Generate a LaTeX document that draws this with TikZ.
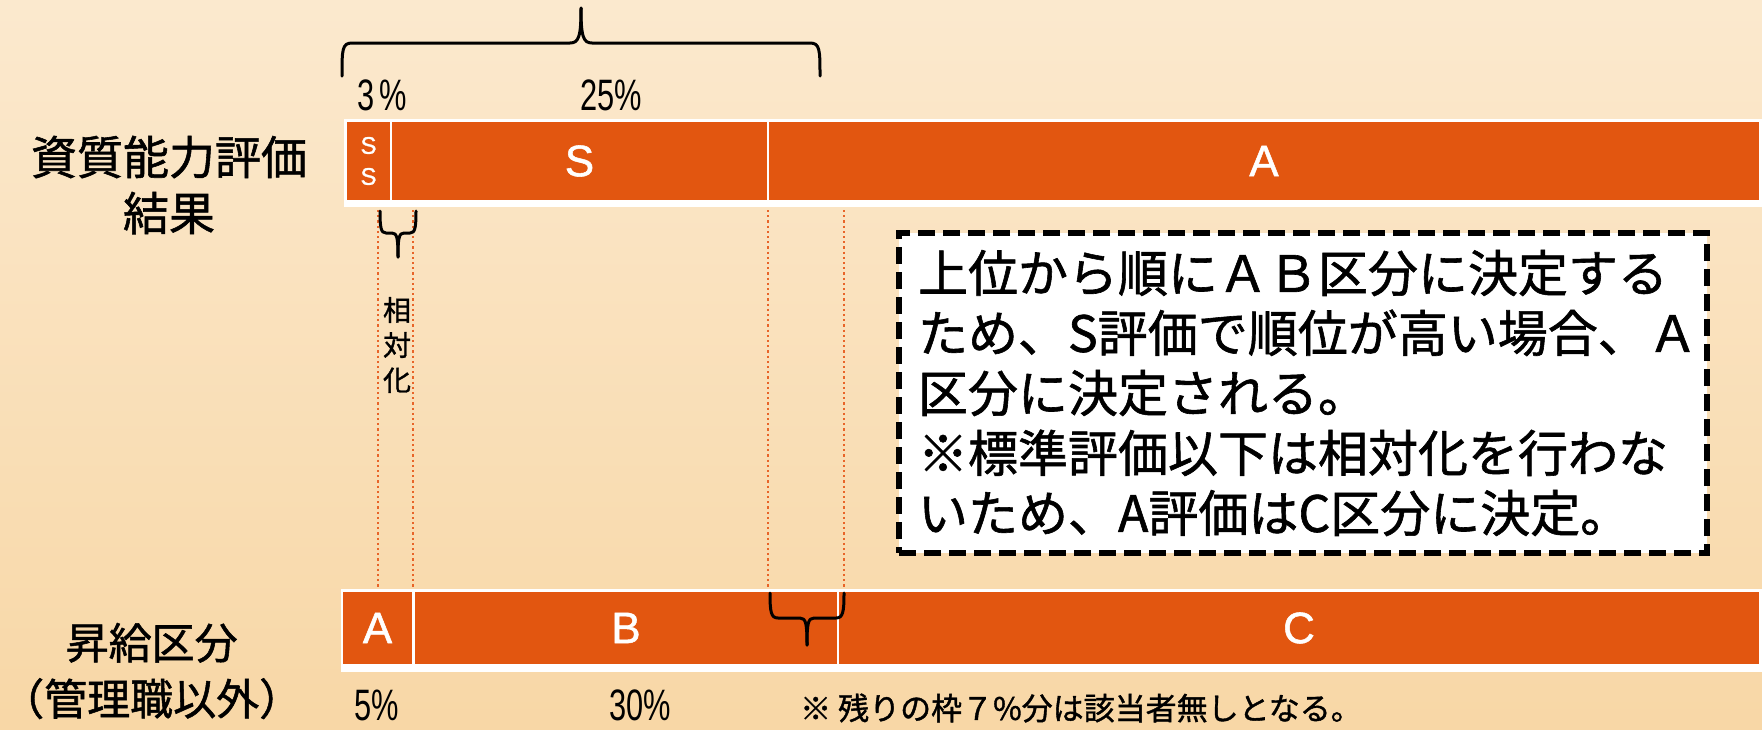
\documentclass[tikz,border=0pt]{standalone}
\usepackage{fontspec}
\newfontfamily\jp{Noto Sans CJK JP}[FakeBold=1.2]
\newfontfamily\ar{Liberation Sans}
\newfontfamily\arb{Liberation Sans}[FakeBold=1.2]
\definecolor{bar}{RGB}{226,86,16}
\definecolor{bgtop}{RGB}{251,233,206}
\definecolor{bgbot}{RGB}{248,215,166}
\definecolor{dotc}{RGB}{232,100,40}
\begin{document}
\begin{tikzpicture}[x=1pt,y=-1pt,
  seg/.style={fill=bar, inner sep=0, text=white, font=\arb\fontsize{44}{44}\selectfont},
  lab/.style={font=\jp\fontsize{46}{56}\selectfont, align=center, inner sep=0},
  pct/.style={font=\ar\fontsize{44}{44}\selectfont, inner sep=0},
  bracepath/.style={line width=3pt, line join=round, line cap=round},
  guide/.style={draw=dotc, line width=2.2pt, dash pattern=on 2.2pt off 3pt},
  notebox/.style={draw=black, fill=white, line width=6pt, dash pattern=on 17pt off 8pt,
    font=\jp\fontsize{50}{60}\selectfont, align=left, inner xsep=19pt, inner ysep=0pt}
]
\useasboundingbox (0,0) rectangle (1762,729);
\shade[top color=bgtop, bottom color=bgbot] (0,0) rectangle (1762,729);

% top bar
\fill[white] (344,119) rectangle (1762,207);
\node[seg, minimum width=43, minimum height=78, font=\arb\fontsize{24}{31}\selectfont, align=center] (ss) at (368.5,161) {S\\S};
\node[seg, minimum width=375, minimum height=78] (s) at (579.5,161) {S};
\node[seg, minimum width=990, minimum height=78] (a) at (1264,161) {A};

% bottom bar
\fill[white] (341,589) rectangle (1762,672);
\node[seg, minimum width=69, minimum height=72] (ba) at (377.5,628) {A};
\node[seg, minimum width=422, minimum height=72] (bb) at (626,628) {B};
\node[seg, minimum width=920, minimum height=72] (bc) at (1299,628) {C};

% left labels
\node[lab] (l1) at (169,185) {資質能力評価\\結果};
\node[lab, font=\jp\fontsize{43}{56}\selectfont, anchor=west] (l2) at (1,671) {昇給区分\\（管理職以外）};

% percentages
\node[pct] (p3) at (382,95) {\scalebox{0.7}[1]{3\,\%}};
\node[pct] (p25) at (611,95) {\scalebox{0.7}[1]{25\%}};
\node[pct] (p5) at (377,705) {\scalebox{0.7}[1]{5\%}};
\node[pct] (p30) at (640,705) {\scalebox{0.7}[1]{30\%}};

% guide lines
\coordinate (g1t) at (378,210); \coordinate (g1b) at (378,589);
\coordinate (g2t) at (413,210); \coordinate (g2b) at (413,589);
\coordinate (g3t) at (768,210); \coordinate (g3b) at (768,589);
\coordinate (g4t) at (844,210); \coordinate (g4b) at (844,589);
\draw[guide] (g1t) -- (g1b);
\draw[guide] (g2t) -- (g2b);
\draw[guide] (g3t) -- (g3b);
\draw[guide] (g4t) -- (g4b);

% top brace (tip up)
\draw[bracepath] (342,76) .. controls (342,50) and (342,43) .. (352,43) -- (570,43) .. controls (579,43) and (581,36) .. (581,8);
\draw[bracepath] (820,76) .. controls (820,50) and (820,43) .. (810,43) -- (592,43) .. controls (583,43) and (581,36) .. (581,8);

% small brace (tip down)
\draw[bracepath] (380,211) .. controls (380,228) and (381,233) .. (386,233) -- (392,233) .. controls (397,233) and (398,238) .. (398,257);
\draw[bracepath] (416,211) .. controls (416,228) and (415,233) .. (410,233) -- (404,233) .. controls (399,233) and (398,238) .. (398,257);

% lower brace (tip down)
\draw[bracepath] (770,593) .. controls (770,612) and (771,618) .. (778,618) -- (800,618) .. controls (806,618) and (807,624) .. (807,645);
\draw[bracepath] (844,593) .. controls (844,612) and (843,618) .. (836,618) -- (814,618) .. controls (808,618) and (807,624) .. (807,645);

% vertical label
\node[font=\jp\fontsize{28}{35}\selectfont, align=center, inner sep=0] (rel) at (397,345) {相\\対\\化};

% note box
\node[notebox, minimum width=808, minimum height=320, text width=770] (note) at (1303,393)
{上位から順にＡＢ区分に決定する\\ため、S評価で順位が高い場合、Ａ\\区分に決定される。\\※標準評価以下は相対化を行わな\\いため、A評価はC区分に決定。};

% remark
\node[font=\jp\fontsize{31}{31}\selectfont, anchor=west, inner sep=0] (rem) at (800,708) {※ 残りの枠７\%分は該当者無しとなる。};
\end{tikzpicture}
\end{document}
